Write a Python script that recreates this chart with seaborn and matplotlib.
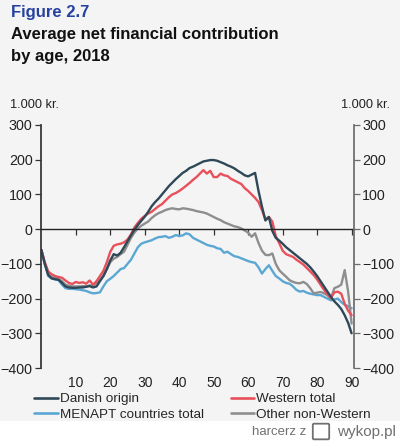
import numpy as np
import pandas as pd
import matplotlib
matplotlib.use("Agg")
import matplotlib.pyplot as plt
import seaborn as sns
from matplotlib.lines import Line2D
from matplotlib.patches import Rectangle, FancyBboxPatch

# ── Data (1.000 kr., ages 0-90) ───────────────────────────────────────────────
ages = list(range(0, 91))

danish = [
    -60, -100, -132, -142, -144, -146, -155, -165, -168, -169,
    -169, -168, -168, -166, -164, -168, -165, -150, -135, -115,
    -90, -72, -76, -68, -52, -35, -18, -2, 12, 24,
    36, 50, 66, 78, 88, 100, 112, 124, 134, 144,
    153, 162, 168, 176, 180, 185, 190, 195, 197, 199,
    199, 197, 193, 189, 184, 180, 175, 168, 162, 155,
    152, 157, 162, 110, 65, 25, 35, -5, -25, -33,
    -42, -52, -60, -68, -76, -84, -92, -100, -110, -122,
    -135, -150, -165, -180, -195, -208, -218, -230, -248, -270,
    -300,
]
western = [
    -60, -95, -122, -130, -135, -138, -140, -148, -155, -158,
    -152, -155, -153, -157, -148, -160, -150, -135, -120, -95,
    -65, -48, -44, -42, -38, -30, -15, 5, 18, 30,
    38, 45, 50, 58, 66, 72, 82, 92, 100, 104,
    110, 117, 125, 133, 142, 150, 160, 170, 160, 168,
    150, 150, 160, 155, 153, 145, 140, 135, 130, 118,
    110, 100, 90, 78, 55, 28, 35, 22, -20, -40,
    -62, -72, -76, -80, -88, -95, -102, -112, -122, -132,
    -145, -160, -175, -188, -198, -182, -180, -186, -215, -235,
    -248,
]
menapt = [
    -60, -100, -135, -142, -145, -147, -160, -170, -172, -172,
    -173, -174, -176, -178, -182, -185, -184, -182, -165, -150,
    -143, -135, -125, -115, -112, -100, -88, -70, -52, -42,
    -38, -35, -32, -27, -23, -22, -20, -25, -22, -17,
    -20, -18, -12, -15, -25, -30, -35, -40, -45, -48,
    -50, -55, -57, -68, -65, -72, -78, -80, -84, -88,
    -92, -95, -97, -110, -128, -115, -104, -120, -135, -142,
    -150, -155, -157, -165, -175, -180, -178, -183, -186, -188,
    -190, -190, -195, -200, -205, -203, -200, -210, -218, -222,
    -228,
]
other = [
    -60, -100, -130, -138, -140, -143, -150, -160, -163, -165,
    -165, -165, -164, -165, -162, -163, -155, -145, -135, -115,
    -95, -85, -80, -72, -65, -45, -25, -10, 2, 10,
    16, 22, 32, 40, 46, 50, 55, 58, 60, 58,
    57, 60, 59, 57, 55, 52, 50, 48, 45, 40,
    35, 30, 26, 20, 16, 12, 8, 6, 2, -4,
    -10, -22, -12, -40, -62, -74, -75, -70, -100, -118,
    -128, -137, -147, -152, -155, -156, -152, -158, -170, -185,
    -183, -181, -185, -190, -200, -170, -166, -160, -118, -180,
    -272,
]

series_names = ["Danish origin", "Western total", "MENAPT countries total", "Other non-Western"]
legend_order = ["Danish origin", "Western total", "MENAPT countries total", "Other non-Western"]
draw_order   = ["MENAPT countries total", "Other non-Western", "Western total", "Danish origin"]

# ── Colours ───────────────────────────────────────────────────────────────────
BG    = "#f4f4f4"
NAVY  = "#2f4858"; RED  = "#e8505b"
BLUE  = "#5ba7d3"; GRAY = "#8e8e8e"
palette = {"Danish origin": NAVY, "Western total": RED,
           "MENAPT countries total": BLUE, "Other non-Western": GRAY}

df = pd.DataFrame({
    "age": ages * 4,
    "value": danish + western + menapt + other,
    "group": sum([[n] * len(ages) for n in series_names], []),
})

sns.set_theme(style="white")
plt.rcParams.update({
    "font.family": ["Liberation Sans", "DejaVu Sans"],
    "figure.facecolor": BG, "axes.facecolor": BG,
})

fig = plt.figure(figsize=(4.0, 4.42), dpi=100)
ax = fig.add_axes([0.1025, 0.1674, 0.7825, 0.5498])

sns.lineplot(data=df, x="age", y="value", hue="group", hue_order=draw_order,
             palette=palette, linewidth=1.7, legend=False, ax=ax)

ax.set_xlim(-0.1, 90.7)
ax.set_ylim(-400, 300)
ax.set_xlabel(""); ax.set_ylabel("")

# zero line with ticks, labels at the bottom
ax.spines["top"].set_visible(False)
ax.spines["right"].set_visible(False)
ax.spines["bottom"].set_position(("data", 0))
ax.spines["bottom"].set_color("#222222")
ax.spines["bottom"].set_linewidth(1.0)
ax.spines["left"].set_color("#333333")
ax.set_xticks(range(10, 91, 10))
ax.tick_params(axis="x", direction="out", length=4, width=0.9, color="#333333",
               labelbottom=False, bottom=True)
ax.set_yticks(range(-400, 301, 100))
ax.tick_params(axis="y", direction="out", length=4, width=0.9, color="#333333",
               labelsize=10.3, labelcolor="#222222", left=True, pad=2)

sec = ax.secondary_xaxis("bottom")
sec.set_xticks(range(10, 91, 10))
sec.tick_params(length=0, labelsize=10, labelcolor="#222222", pad=5.5)
sec.spines["bottom"].set_visible(False)

axr = ax.twinx()
axr.set_ylim(-400, 300)
axr.set_yticks(range(-400, 301, 100))
for s in ["top", "left", "bottom"]:
    axr.spines[s].set_visible(False)
axr.spines["right"].set_color("#6b6b6b")
axr.tick_params(axis="y", direction="out", length=4, width=0.9, color="#6b6b6b",
                labelsize=10.3, labelcolor="#222222", pad=2)

# ── Texts ─────────────────────────────────────────────────────────────────────
fig.text(0.027, 1 - 13 / 442, "Figure 2.7", color="#2642a0", fontsize=12,
         weight="bold", va="center")
fig.text(0.027, 1 - 35 / 442, "Average net financial contribution", color="#111111",
         fontsize=12, weight="bold", va="center")
fig.text(0.027, 1 - 56 / 442, "by age, 2018", color="#111111",
         fontsize=12, weight="bold", va="center")
fig.text(0.025, 1 - 105 / 442, "1.000 kr.", fontsize=9.2, color="#222222", va="center")
fig.text(0.975, 1 - 105 / 442, "1.000 kr.", fontsize=9.2, color="#222222",
         va="center", ha="right")

# ── Legend ────────────────────────────────────────────────────────────────────
handles = [Line2D([0], [0], color=palette[n], lw=1.9) for n in legend_order]
col_major = [0, 2, 1, 3]
fig.legend([handles[i] for i in col_major], [legend_order[i] for i in col_major],
           loc="upper left", bbox_to_anchor=(0.085, 1 - 393 / 442), ncol=2,
           frameon=False, fontsize=9.7, handlelength=1.75, handletextpad=0.15,
           columnspacing=2.0, labelspacing=0.2, borderaxespad=0, borderpad=0)

# watermark band
fig.patches.append(Rectangle((0, 0), 1, 21 / 442, transform=fig.transFigure,
                             facecolor="white", edgecolor="none", zorder=0))
fig.text(0.63, 10 / 442, "harcerz z", fontsize=9.5, color="#707070", va="center")
fig.patches.append(FancyBboxPatch((0.785, 4 / 442), 0.035, 13 / 442,
                                  boxstyle="round,pad=0.003", transform=fig.transFigure,
                                  facecolor="none", edgecolor="#707070", lw=1.3))
fig.text(0.99, 10 / 442, "wykop.pl", fontsize=11, color="#707070", va="center", ha="right")

fig.savefig("out.png", dpi=100, facecolor=BG)
plt.close()
